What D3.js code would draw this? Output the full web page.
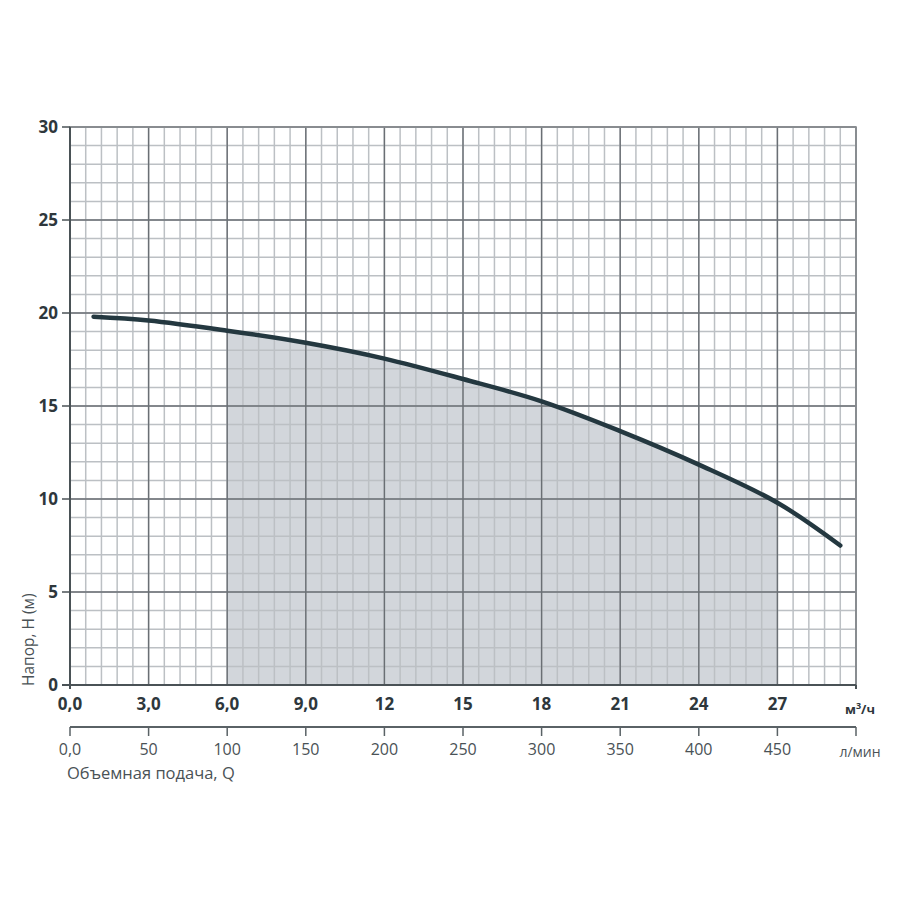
<!DOCTYPE html>
<html><head><meta charset="utf-8">
<script src="https://cdn.jsdelivr.net/npm/d3@7"></script>
<style>body{margin:0;background:#fff}svg{display:block}</style>
</head><body>
<script>
// Data
const flowM3h = [0.9, 3, 6, 9, 12, 15, 18, 21, 24, 27, 29.4];
const headM   = [19.8, 19.6, 19.05, 18.4, 17.55, 16.45, 15.25, 13.65, 11.85, 9.8, 7.5];
const workRange = [6, 27];
const xTicksM3h = [0, 3, 6, 9, 12, 15, 18, 21, 24, 27];
const xTickLabelsM3h = ["0,0","3,0","6,0","9,0","12","15","18","21","24","27"];
const xTicksLmin = [0, 50, 100, 150, 200, 250, 300, 350, 400, 450];
const xTickLabelsLmin = ["0,0","50","100","150","200","250","300","350","400","450"];
const yTicks = [0, 5, 10, 15, 20, 25, 30];

const W = 900, H = 900;
const svg = d3.select("body").append("svg").attr("width", W).attr("height", H);
const x = d3.scaleLinear().domain([0, 30]).range([70, 856]);
const xL = d3.scaleLinear().domain([0, 500]).range([70, 856]);
const y = d3.scaleLinear().domain([0, 30]).range([685, 127]);

const curve = flowM3h.map((q, i) => ({q, h: headM[i]}));
const interp = d3.curveCatmullRom.alpha(0.5);
const line = d3.line().x(d => x(d.q)).y(d => y(d.h)).curve(interp);

// Shaded working area
const area = d3.area().x(d => x(d.q)).y0(y(0)).y1(d => y(d.h)).curve(interp);
svg.append("clipPath").attr("id", "wr").append("rect")
  .attr("x", x(workRange[0])).attr("y", y(30))
  .attr("width", x(workRange[1]) - x(workRange[0])).attr("height", y(0) - y(30));
svg.append("path").datum(curve).attr("d", area).attr("fill", "#d2d6db").attr("clip-path", "url(#wr)");

// Minor grid
const g = svg.append("g");
const minorX = d3.range(0, 30.001, 0.6);
const minorY = d3.range(0, 30.001, 1);
g.selectAll(".mx").data(minorX).join("line")
  .attr("x1", d => x(d)).attr("x2", d => x(d)).attr("y1", y(0)).attr("y2", y(30))
  .attr("stroke", "#bcc0c4").attr("stroke-width", 1.5);
g.selectAll(".my").data(minorY).join("line")
  .attr("y1", d => y(d)).attr("y2", d => y(d)).attr("x1", x(0)).attr("x2", x(30))
  .attr("stroke", "#bcc0c4").attr("stroke-width", 1.5);
// Major grid
g.selectAll(".Mx").data(d3.range(0, 30.001, 3)).join("line")
  .attr("x1", d => x(d)).attr("x2", d => x(d)).attr("y1", y(0)).attr("y2", y(30))
  .attr("stroke", "#6a6f74").attr("stroke-width", 1.4);
g.selectAll(".My").data(yTicks).join("line")
  .attr("y1", d => y(d)).attr("y2", d => y(d)).attr("x1", x(0)).attr("x2", x(30))
  .attr("stroke", "#6a6f74").attr("stroke-width", 1.4);
// border
g.append("rect").attr("x", x(0)).attr("y", y(30)).attr("width", x(30)-x(0)).attr("height", y(0)-y(30))
  .attr("fill", "none").attr("stroke", "#8a8e92").attr("stroke-width", 1.6);

// Axes lines
const axisColor = "#4a5256";
svg.append("line").attr("x1", x(0)).attr("x2", x(0)).attr("y1", y(30)).attr("y2", y(0)+4)
  .attr("stroke", axisColor).attr("stroke-width", 2);
svg.append("line").attr("x1", x(0)-8).attr("x2", x(30)).attr("y1", y(0)).attr("y2", y(0))
  .attr("stroke", axisColor).attr("stroke-width", 2);
svg.append("line").attr("x1", x(30)).attr("x2", x(30)).attr("y1", y(0)).attr("y2", y(0)+4)
  .attr("stroke", axisColor).attr("stroke-width", 2);

// Y ticks
svg.selectAll(".yt").data(yTicks).join("line")
  .attr("x1", x(0)-8).attr("x2", x(0)).attr("y1", d => y(d)).attr("y2", d => y(d))
  .attr("stroke", axisColor).attr("stroke-width", 1.5);
svg.selectAll(".yl").data(yTicks).join("text")
  .attr("x", 58).attr("y", d => y(d)).attr("dy", "0.36em").attr("text-anchor", "end")
  .attr("font-family", "Open Sans").attr("font-weight", "bold").attr("font-size", 17)
  .attr("fill", "#2e373c").text(d => d);

// X labels m3/h
svg.selectAll(".xl").data(xTicksM3h).join("text")
  .attr("x", d => x(d)).attr("y", 710).attr("text-anchor", "middle")
  .attr("font-family", "Open Sans").attr("font-weight", "bold").attr("font-size", 17)
  .attr("fill", "#2e373c").text((d, i) => xTickLabelsM3h[i]);
const unit1 = svg.append("text").attr("x", 860).attr("y", 714).attr("text-anchor", "middle")
  .attr("font-family", "Open Sans").attr("font-weight", "bold").attr("font-size", 13).attr("fill", "#2e373c");
unit1.append("tspan").text("м");
unit1.append("tspan").attr("dy", -5).attr("font-size", 9).text("3");
unit1.append("tspan").attr("dy", 5).text("/ч");

// Second axis l/min
svg.append("line").attr("x1", xL(0)).attr("x2", xL(500)).attr("y1", 727).attr("y2", 727)
  .attr("stroke", "#5a6266").attr("stroke-width", 2);
svg.selectAll(".lt").data(xTicksLmin.concat([500])).join("line")
  .attr("x1", d => xL(d)).attr("x2", d => xL(d)).attr("y1", 727).attr("y2", 736)
  .attr("stroke", "#5a6266").attr("stroke-width", 1.5);
svg.selectAll(".ll").data(xTicksLmin).join("text")
  .attr("x", d => xL(d)).attr("y", 755).attr("text-anchor", "middle")
  .attr("font-family", "Open Sans").attr("font-size", 16)
  .attr("fill", "#4a5256").text((d, i) => xTickLabelsLmin[i]);
svg.append("text").attr("x", 860).attr("y", 757).attr("text-anchor", "middle")
  .attr("font-family", "Open Sans").attr("font-size", 14).attr("fill", "#4a5256").text("л/мин");
svg.append("text").attr("x", 67).attr("y", 779)
  .attr("font-family", "Open Sans").attr("font-size", 16.5).attr("fill", "#4a5256").text("Объемная подача, Q");

// Y axis title
svg.append("text").attr("transform", "translate(34,686) rotate(-90)")
  .attr("font-family", "Open Sans").attr("font-size", 15.5).attr("fill", "#4a5256").text("Напор, Н (м)");

// Curve
svg.append("path").datum(curve).attr("d", line).attr("fill", "none")
  .attr("stroke", "#243840").attr("stroke-width", 4.5).attr("stroke-linecap", "round");
</script>
</body></html>
